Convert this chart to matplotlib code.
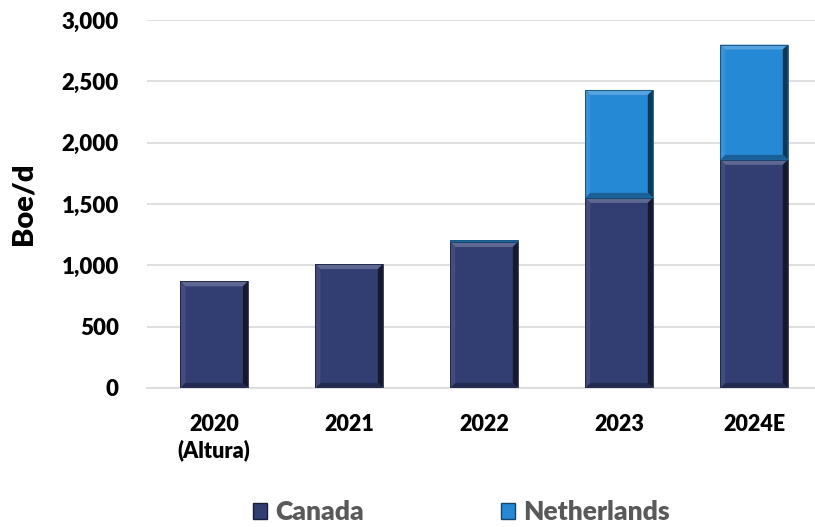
import matplotlib
matplotlib.use("Agg")
import matplotlib.pyplot as plt
import numpy as np
from matplotlib.colors import to_rgb
from matplotlib.patches import Patch, Polygon
from matplotlib.ticker import FuncFormatter

WEIGHT = "heavy"
plt.rcParams.update({
    "font.family": ["Lato", "DejaVu Sans"],
    "font.weight": WEIGHT,
})

# Production by country, boe/d
years = ["2020\n(Altura)", "2021", "2022", "2023", "2024E"]
canada = [870, 1010, 1190, 1550, 1860]
netherlands = [0, 0, 15, 880, 940]

CANADA_COLOR = "#323E72"
NL_COLOR = "#2589D6"


def shade(color, f):
    r, g, b = to_rgb(color)
    if f >= 0:
        return (r + (1 - r) * f, g + (1 - g) * f, b + (1 - b) * f)
    return (r * (1 + f), g * (1 + f), b * (1 + f))


def add_bevel(ax, rect, color, bx, by):
    x0, y0 = rect.get_x(), rect.get_y()
    w, h = rect.get_width(), rect.get_height()
    if h <= 0:
        return
    x1, y1 = x0 + w, y0 + h
    b_y = min(by, h / 2)
    b_x = bx if h >= 2 * by else bx * h / (2 * by)
    faces = [
        ([(x0, y1), (x1, y1), (x1 - b_x, y1 - b_y), (x0 + b_x, y1 - b_y)], shade(color, 0.22)),
        ([(x0, y0), (x0, y1), (x0 + b_x, y1 - b_y), (x0 + b_x, y0 + b_y)], shade(color, 0.08)),
        ([(x1, y0), (x1, y1), (x1 - b_x, y1 - b_y), (x1 - b_x, y0 + b_y)], shade(color, -0.6)),
        ([(x0, y0), (x1, y0), (x1 - b_x, y0 + b_y), (x0 + b_x, y0 + b_y)], shade(color, -0.3)),
    ]
    for pts, c in faces:
        ax.add_patch(Polygon(pts, closed=True, facecolor=c, edgecolor="none", zorder=3))
    ax.add_patch(Polygon([(x0, y0), (x0, y1), (x1, y1), (x1, y0)], closed=True,
                         facecolor="none", edgecolor=shade(color, -0.45), linewidth=0.6, zorder=4))


fig = plt.figure(figsize=(8.15, 5.27), dpi=100)
ax = fig.add_axes([0.18, 0.2638, 0.828, 0.6982])

x = np.arange(len(years))
width = 0.5
bars_ca = ax.bar(x, canada, width, color=CANADA_COLOR, zorder=2)
bars_nl = ax.bar(x, netherlands, width, bottom=canada, color=NL_COLOR, zorder=2)

# bevel size: ~5 px in both directions
bx = 5 / 135
by = 5 / (368 / 3000)
for rect in bars_ca:
    add_bevel(ax, rect, CANADA_COLOR, bx, by)
for rect in bars_nl:
    add_bevel(ax, rect, NL_COLOR, bx, by)

ax.set_xlim(-0.5, len(years) - 0.5)
ax.set_ylim(0, 3000)
ax.set_yticks(np.arange(0, 3001, 500))
ax.yaxis.set_major_formatter(FuncFormatter(lambda v, p: f"{int(v):,}"))
ax.set_xticks(x)
ax.set_xticklabels(years, fontsize=15.5, fontweight=WEIGHT)
ax.tick_params(axis="y", labelsize=16, length=0, pad=20)
ax.tick_params(axis="x", length=0, pad=19)
for lab in ax.get_yticklabels():
    lab.set_fontweight(WEIGHT)

ax.grid(axis="y", color="#D9D9D9", linewidth=1.2, zorder=0)
ax.set_axisbelow(True)
for side in ["top", "right", "left"]:
    ax.spines[side].set_visible(False)
ax.spines["bottom"].set_color("#D9D9D9")
ax.spines["bottom"].set_linewidth(1.2)

ax.set_ylabel("Boe/d", fontsize=21, fontweight=WEIGHT, labelpad=18)

handles = [
    Patch(facecolor=CANADA_COLOR, edgecolor=shade(CANADA_COLOR, -0.5), label="Canada"),
    Patch(facecolor=NL_COLOR, edgecolor=shade(NL_COLOR, -0.5), label="Netherlands"),
]
leg = fig.legend(handles=handles, loc="center", bbox_to_anchor=(0.566, 0.028), ncol=2,
                 frameon=False, fontsize=19, handlelength=0.55, handleheight=0.55,
                 handletextpad=0.3, columnspacing=5.2)
for t in leg.get_texts():
    t.set_color("#595959")
    t.set_fontweight(WEIGHT)

fig.savefig("out.png", dpi=100)
